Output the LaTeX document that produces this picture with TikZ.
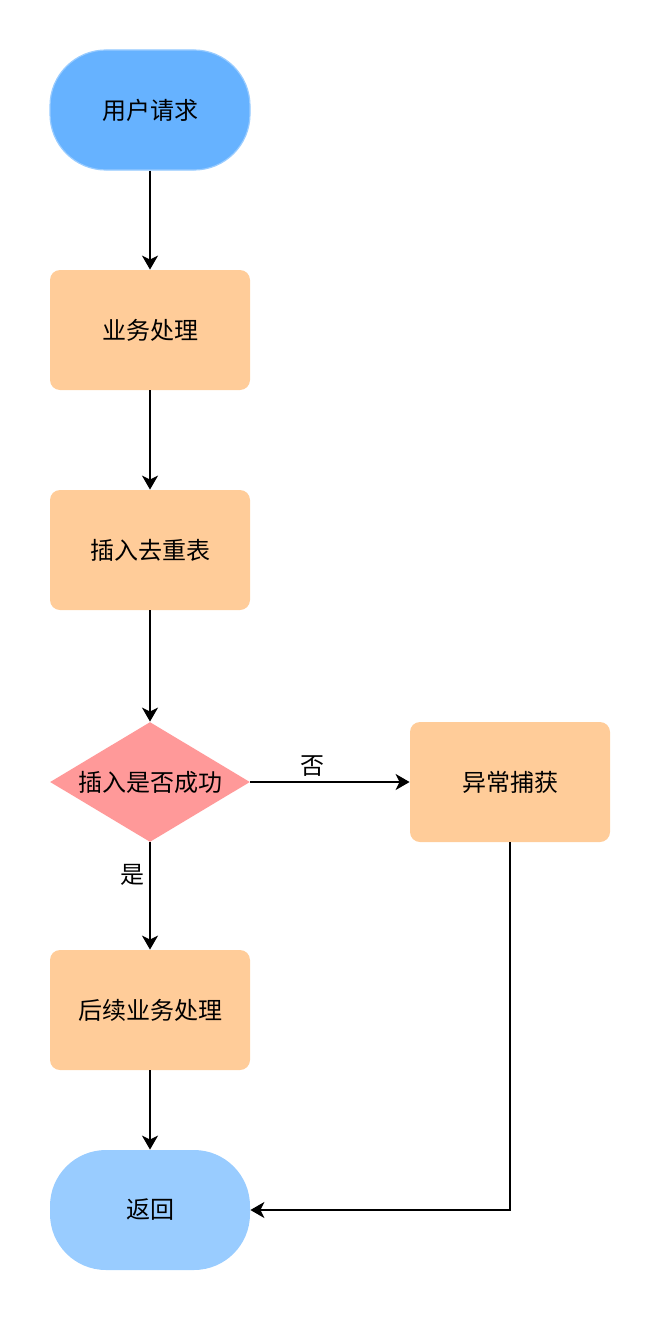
\documentclass[tikz,border=0pt]{standalone}
\usepackage{fontspec}
\newfontfamily\cjk{Noto Sans CJK SC}
\usetikzlibrary{arrows.meta,shapes.geometric}

\definecolor{startblue}{HTML}{66B2FF}
\definecolor{startline}{HTML}{99CCFF}
\definecolor{endblue}{HTML}{99CCFF}
\definecolor{boxorange}{HTML}{FFCC99}
\definecolor{decisionred}{HTML}{FF9999}

\tikzset{
  terminal/.style={rounded corners=28pt, minimum width=100pt, minimum height=60pt, font=\cjk\fontsize{12}{14}\selectfont},
  procbox/.style={fill=boxorange, rounded corners=5pt, minimum width=100pt, minimum height=60pt, font=\cjk\fontsize{12}{14}\selectfont},
  decision/.style={diamond, fill=decisionred, minimum width=100pt, minimum height=60pt, aspect=1.67, inner sep=0pt, font=\cjk\fontsize{12}{14}\selectfont},
  flow/.style={line width=1pt, -{Stealth[length=7pt, width=8pt, inset=2pt]}},
  edgelabel/.style={font=\cjk\fontsize{12}{14}\selectfont}
}

\begin{document}
\begin{tikzpicture}[x=0.5pt, y=-0.5pt]
    \useasboundingbox (0,0) rectangle (662,1322);

    \node[terminal, fill=startblue, draw=startline, line width=0.6pt] (request) at (150,110) {用户请求};
    \node[procbox] (business) at (150,330) {业务处理};
    \node[procbox] (insert) at (150,550) {插入去重表};
    \node[decision] (success) at (150,782) {插入是否成功};
    \node[procbox] (catch) at (510,782) {异常捕获};
    \node[procbox] (follow) at (150,1010) {后续业务处理};
    \node[terminal, fill=endblue] (return) at (150,1210) {返回};

    \draw[flow] (request) -- (business);
    \draw[flow] (business) -- (insert);
    \draw[flow] (insert) -- (success);
    \draw[flow] (success) -- (catch);
    \draw[flow] (success) -- (follow);
    \draw[flow] (follow) -- (return);
    \draw[flow] (catch.south) |- (return.east);

    \node[edgelabel] (nolabel) at (312,766) {否};
    \node[edgelabel] (yeslabel) at (132,875) {是};
\end{tikzpicture}
\end{document}
